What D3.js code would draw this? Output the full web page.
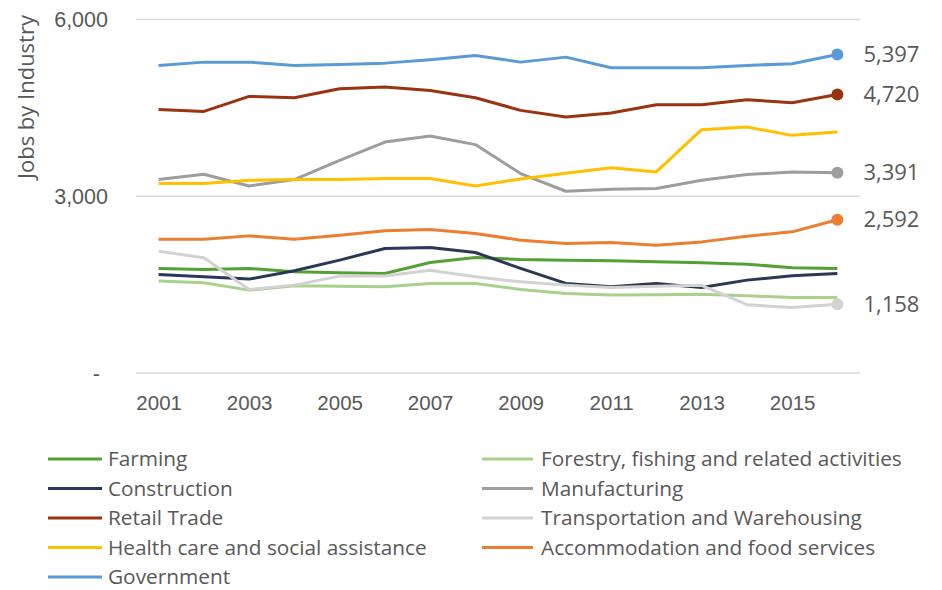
<!DOCTYPE html>
<html>
<head>
<meta charset="utf-8">
<script src="https://cdn.jsdelivr.net/npm/d3@7"></script>
<style>
  html, body { margin: 0; padding: 0; background: #fff; }
  svg { display: block; font-family: "Open Sans", Lato, sans-serif; }
</style>
</head>
<body>
<svg id="chart" width="942" height="590"></svg>
<script>
// Jobs by industry, 2001-2016
const years = d3.range(2001, 2017);
const yearTicks = [2001, 2003, 2005, 2007, 2009, 2011, 2013, 2015];
const valueTicks = [0, 3000, 6000];

const seriesNames = [
  "Farming",
  "Forestry, fishing and related activities",
  "Construction",
  "Manufacturing",
  "Retail Trade",
  "Transportation and Warehousing",
  "Health care and social assistance",
  "Accommodation and food services",
  "Government"
];

const farming        = [1766, 1749, 1766, 1709, 1692, 1681, 1868, 1953, 1918, 1907, 1896, 1879, 1862, 1839, 1777, 1766];
const forestry       = [1551, 1523, 1398, 1472, 1466, 1455, 1512, 1512, 1410, 1342, 1314, 1320, 1330, 1302, 1274, 1274];
const construction   = [1664, 1624, 1585, 1726, 1907, 2105, 2122, 2037, 1766, 1512, 1454, 1512, 1444, 1568, 1641, 1681];
const manufacturing  = [3274, 3364, 3166, 3274, 3602, 3912, 4014, 3868, 3376, 3076, 3110, 3122, 3263, 3359, 3404, 3391];
const retail         = [4466, 4432, 4686, 4664, 4816, 4844, 4788, 4664, 4449, 4336, 4404, 4545, 4545, 4630, 4579, 4720];
const transportation = [2059, 1946, 1410, 1483, 1636, 1636, 1737, 1624, 1539, 1483, 1444, 1466, 1480, 1150, 1105, 1158];
const healthCare     = [3206, 3206, 3263, 3274, 3274, 3291, 3291, 3166, 3285, 3380, 3475, 3404, 4122, 4166, 4025, 4081];
const accommodation  = [2263, 2263, 2319, 2263, 2331, 2404, 2427, 2359, 2246, 2189, 2206, 2161, 2217, 2314, 2387, 2592];
const government     = [5212, 5268, 5268, 5212, 5229, 5251, 5308, 5381, 5268, 5353, 5172, 5172, 5172, 5212, 5240, 5397];

const seriesValues = [farming, forestry, construction, manufacturing, retail,
                      transportation, healthCare, accommodation, government];
const seriesColors = ["#55a035", "#a9d18e", "#283856", "#9d9d9d", "#9b3311",
                      "#d2d2d2", "#ffc000", "#ed7d31", "#5b9bd5"];
// series that end with a dot and a value label
const labelled = [false, false, false, true, true, true, false, true, true];

const series = seriesNames.map((name, i) => ({
  name, color: seriesColors[i], values: seriesValues[i], labelled: labelled[i]
}));

const svg = d3.select("#chart");
const textColor = "#595959";
const gridColor = "#d9d9d9";

const x = d3.scalePoint().domain(years).range([136, 860]).padding(0.5);
const y = d3.scaleLinear().domain([0, 6000]).range([372.5, 19]);

// value axis with gridlines
const yAxis = d3.axisLeft(y)
  .tickValues(valueTicks)
  .tickSize(-(860 - 136))
  .tickPadding(28)
  .tickFormat(d => d === 0 ? "-" : d3.format(",")(d));
const gy = svg.append("g").attr("transform", "translate(136,0)").call(yAxis);
gy.select(".domain").remove();
gy.selectAll(".tick line").attr("stroke", gridColor).attr("stroke-width", 1.5);
gy.selectAll(".tick text")
  .attr("fill", textColor)
  .style("font-size", "21.5px")
  .attr("dy", "0.35em");
gy.selectAll(".tick text").filter(d => d === 0).attr("dx", -8);

// category axis
const xAxis = d3.axisBottom(x).tickValues(yearTicks).tickSize(0).tickPadding(23);
const gx = svg.append("g").attr("transform", "translate(0,372.5)").call(xAxis);
gx.select(".domain").remove();
gx.selectAll(".tick text").attr("fill", textColor).style("font-size", "20.5px");

// axis title
svg.append("text")
  .attr("transform", "translate(34,97) rotate(-90)")
  .attr("text-anchor", "middle")
  .attr("fill", textColor)
  .style("font-size", "22px")
  .text("Jobs by Industry");

// lines
const line = d3.line()
  .x((d, i) => x(years[i]))
  .y(d => y(d));

svg.append("g").selectAll("path")
  .data(series)
  .join("path")
  .attr("fill", "none")
  .attr("stroke", d => d.color)
  .attr("stroke-width", 3)
  .attr("stroke-linejoin", "round")
  .attr("d", d => line(d.values));

// end markers and value labels
const last = years.length - 1;
const ends = series.filter(d => d.labelled);
svg.append("g").selectAll("circle")
  .data(ends)
  .join("circle")
  .attr("cx", x(years[last]))
  .attr("cy", d => y(d.values[last]))
  .attr("r", 6)
  .attr("fill", d => d.color);

svg.append("g").selectAll("text")
  .data(ends)
  .join("text")
  .attr("x", x(years[last]) + 26)
  .attr("y", d => y(d.values[last]))
  .attr("dy", "0.35em")
  .attr("fill", textColor)
  .style("font-size", "22px")
  .text(d => d3.format(",")(d.values[last]));

// legend, two columns
const legend = svg.append("g");
const colX = [48, 482];
const rowY = [459, 488.5, 518, 547.5, 577];
const items = legend.selectAll("g")
  .data(series)
  .join("g")
  .attr("transform", (d, i) => `translate(${colX[i % 2]},${rowY[Math.floor(i / 2)]})`);
items.append("line")
  .attr("x1", 0).attr("x2", (d, i) => i % 2 ? 51 : 54)
  .attr("stroke", d => d.color)
  .attr("stroke-width", 3);
items.append("text")
  .attr("x", (d, i) => i % 2 ? 59 : 60)
  .attr("dy", "0.35em")
  .attr("fill", textColor)
  .style("font-size", "20.8px")
  .text(d => d.name);
</script>
</body>
</html>
